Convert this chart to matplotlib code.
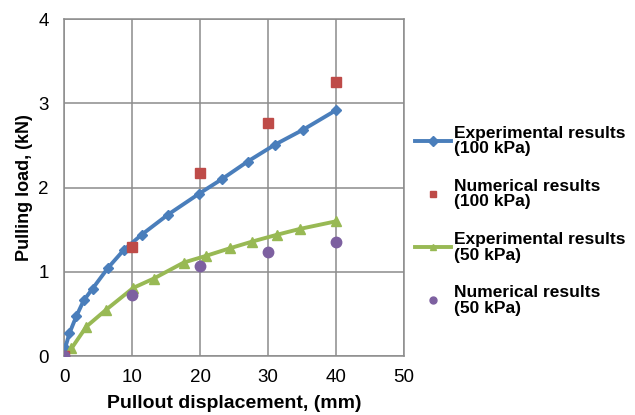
import matplotlib.pyplot as plt

plt.rcParams["font.family"] = ["Liberation Sans", "DejaVu Sans"]

# Experimental, 100 kPa
exp100_x = [0.15, 0.8, 1.8, 2.9, 4.2, 6.5, 8.8, 11.4, 15.3, 19.9, 23.2, 27.0, 31.0, 35.2, 40.0]
exp100_y = [0.09, 0.27, 0.47, 0.66, 0.80, 1.05, 1.26, 1.44, 1.68, 1.93, 2.10, 2.31, 2.51, 2.69, 2.92]
# Numerical, 100 kPa
num100_x = [0, 10, 20, 30, 40]
num100_y = [0.0, 1.29, 2.17, 2.77, 3.25]
# Experimental, 50 kPa
exp50_x = [1.1, 3.3, 6.2, 10.2, 13.2, 17.6, 20.9, 24.4, 27.7, 31.3, 34.7, 40.0]
exp50_y = [0.09, 0.35, 0.55, 0.81, 0.92, 1.11, 1.19, 1.28, 1.36, 1.44, 1.51, 1.60]
# Numerical, 50 kPa
num50_x = [0, 10, 20, 30, 40]
num50_y = [0.0, 0.73, 1.07, 1.23, 1.35]

fig = plt.figure(figsize=(6.35, 4.15), dpi=100)
ax = fig.add_axes([64 / 635, 1 - 356 / 415, 340 / 635, (356 - 19.3) / 415])

ax.plot(exp100_x, exp100_y, color="#4A7EBB", lw=2.8, marker="D", ms=5.5,
        label="Experimental results\n(100 kPa)", zorder=3)
ax.plot(num100_x, num100_y, ls="none", color="#BE4B48", marker="s", ms=7.5,
        label="Numerical results\n(100 kPa)", zorder=4)
ax.plot(exp50_x, exp50_y, color="#98B954", lw=2.8, marker="^", ms=7.5,
        label="Experimental results\n(50 kPa)", zorder=3)
ax.plot(num50_x, num50_y, ls="none", color="#7D60A0", marker="o", ms=7.5,
        label="Numerical results\n(50 kPa)", zorder=4)

ax.set_xlim(0, 50)
ax.set_ylim(0, 4)
ax.set_xticks(range(0, 51, 10))
ax.set_yticks(range(0, 5))
ax.grid(True, color="#8C8C8C", lw=1.1)
for s in ax.spines.values():
    s.set_color("#8C8C8C")
    s.set_linewidth(1.1)
ax.tick_params(length=0, labelsize=13.5)
ax.tick_params(axis="x", pad=9)
ax.tick_params(axis="y", pad=11)
for lbl in ax.get_xticklabels() + ax.get_yticklabels():
    lbl.set_clip_on(False)

ax.set_xlabel("Pullout displacement, (mm)", fontsize=14, fontweight="bold", labelpad=7)
ax.set_ylabel("Pulling load, (kN)", fontsize=13, fontweight="bold", labelpad=4)

leg = fig.legend(loc="upper left", bbox_to_anchor=(406 / 635, 1 - 117 / 415),
                 frameon=False, handlelength=2.1, handletextpad=0.15,
                 labelspacing=1.3, borderpad=0,
                 prop={"size": 12.5, "weight": "bold"})
for t in leg.get_texts():
    t.set_linespacing(1.05)
for h in leg.legend_handles:
    h.set_markersize(5)

fig.savefig("out.png", dpi=100)
